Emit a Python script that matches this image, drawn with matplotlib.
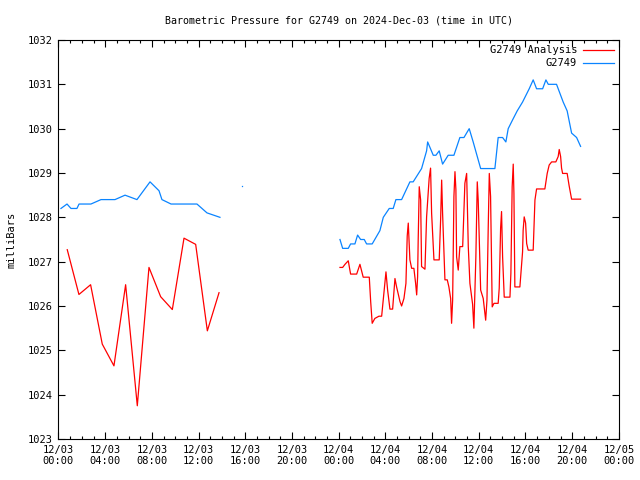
import numpy as np
import matplotlib
matplotlib.use("Agg")
import matplotlib.pyplot as plt
from matplotlib.ticker import MultipleLocator, FuncFormatter

nan = np.nan

# hours since 2024-12-03 00:00 UTC
obs_hours = [0.21, 0.73, 1.07, 1.58, 1.76, 2.78, 3.64, 4.84, 5.70, 6.72, 7.84, 8.61, 8.86,
             9.64, 11.86, 12.72, 13.83, nan, 15.74, nan,
             24.11, 24.34, 24.82, 25.02, 25.39, 25.62, 25.88, 26.19, 26.39, 26.87, 27.53,
             27.82, 28.33, 28.67, 28.90, 29.39, 30.10, 30.38, 31.10, 31.53, 31.62, 32.10,
             32.33, 32.61, 32.90, 33.38, 33.87, 34.38, 34.73, 35.18, 35.52, 36.16, 37.38,
             37.66, 38.04, 38.32, 38.52, 38.90, 39.29, 39.75, 40.32, 40.66, 40.95, 41.47,
             41.75, 41.95, 42.66, 43.23, 43.57, 43.95, 44.38, 44.72]
obs_mb = [1028.2, 1028.3, 1028.2, 1028.2, 1028.3, 1028.3, 1028.4, 1028.4, 1028.5, 1028.4,
          1028.8, 1028.6, 1028.4, 1028.3, 1028.3, 1028.1, 1028.0, nan, 1028.7, nan,
          1027.5, 1027.3, 1027.3, 1027.4, 1027.4, 1027.6, 1027.5, 1027.5, 1027.4, 1027.4,
          1027.7, 1028.0, 1028.2, 1028.2, 1028.4, 1028.4, 1028.8, 1028.8, 1029.1, 1029.5,
          1029.7, 1029.4, 1029.4, 1029.5, 1029.2, 1029.4, 1029.4, 1029.8, 1029.8, 1030.0,
          1029.7, 1029.1, 1029.1, 1029.8, 1029.8, 1029.7, 1030.0, 1030.2, 1030.4, 1030.6,
          1030.9, 1031.1, 1030.9, 1030.9, 1031.1, 1031.0, 1031.0, 1030.6, 1030.4, 1029.9,
          1029.8, 1029.6]

ana_hours = [0.75, 1.75, 2.75, 3.75, 4.75, 5.75, 6.75, 7.75, 8.75, 9.75, 10.75, 11.75,
             12.75, 13.75, nan,
             24.11, 24.34, 24.54, 24.82, 25.02, 25.54, 25.82, 26.10, 26.62, 26.74, 26.87,
             27.10, 27.45, 27.68, 27.88, 28.05, 28.19, 28.39, 28.62, 28.82, 28.96, 29.25,
             29.39, 29.59, 29.76, 29.87, 29.96, 30.10, 30.25, 30.44, 30.59, 30.68, 30.76,
             30.81, 30.90, 31.02, 31.10, 31.39, 31.53, 31.75, 31.87, 31.96, 32.16, 32.61,
             32.73, 32.82, 32.90, 33.10, 33.30, 33.44, 33.59, 33.67, 33.76, 33.87, 33.96,
             34.04, 34.10, 34.24, 34.38, 34.62, 34.81, 34.96, 35.10, 35.24, 35.47, 35.58,
             35.75, 35.87, 35.95, 36.16, 36.38, 36.59, 36.70, 36.81, 36.90, 37.01, 37.15,
             37.30, 37.66, 37.75, 37.87, 37.95, 38.04, 38.18, 38.67, 38.75, 38.86, 38.95,
             39.01, 39.09, 39.52, 39.75, 39.80, 39.89, 40.01, 40.10, 40.23, 40.66, 40.81,
             40.95, 41.66, 41.86, 42.03, 42.24, 42.60, 42.80, 42.89, 43.01, 43.09, 43.18,
             43.57, 43.74, 43.95, 44.72]
ana_mb = [1027.27, 1026.26, 1026.48, 1025.14, 1024.65, 1026.48, 1023.75, 1026.87, 1026.21,
          1025.92, 1027.53, 1027.39, 1025.44, 1026.30, nan,
          1026.87, 1026.87, 1026.94, 1027.02, 1026.72, 1026.72, 1026.94, 1026.65, 1026.65,
          1026.10, 1025.61, 1025.72, 1025.77, 1025.77, 1026.32, 1026.77, 1026.36, 1025.93,
          1025.93, 1026.62, 1026.43, 1026.10, 1026.00, 1026.17, 1026.51, 1027.58, 1027.87,
          1027.04, 1026.85, 1026.85, 1026.51, 1026.25, 1026.66, 1027.49, 1028.69, 1028.39,
          1026.89, 1026.83, 1028.01, 1028.88, 1029.11, 1028.09, 1027.04, 1027.04, 1027.94,
          1028.84, 1028.09, 1026.59, 1026.59, 1026.43, 1026.17, 1025.61, 1026.13, 1028.47,
          1029.03, 1028.62, 1027.11, 1026.81, 1027.34, 1027.34, 1028.77, 1028.99, 1027.34,
          1026.51, 1026.04, 1025.50, 1027.11, 1028.80, 1028.39, 1026.36, 1026.17, 1025.68,
          1026.13, 1027.79, 1028.99, 1028.47, 1025.98, 1026.06, 1026.06, 1026.40, 1027.76,
          1028.13, 1027.11, 1026.20, 1026.20, 1026.74, 1028.69, 1029.20, 1028.54, 1026.43,
          1026.43, 1027.22, 1027.71, 1028.01, 1027.87, 1027.41, 1027.26, 1027.26, 1028.39,
          1028.64, 1028.64, 1028.99, 1029.18, 1029.25, 1029.25, 1029.37, 1029.53, 1029.37,
          1029.11, 1028.99, 1028.99, 1028.71, 1028.41, 1028.41]

plt.rcParams['font.family'] = 'DejaVu Sans Mono'
plt.rcParams['font.size'] = 7.5

fig = plt.figure(figsize=(6.4, 4.8), dpi=100)
ax = fig.add_axes([0.0914, 0.0854, 0.8756, 0.8313])

ax.plot(ana_hours, ana_mb, color='#ff0000', lw=0.9, label='G2749 Analysis')
ax.plot(obs_hours, obs_mb, color='#0a84ff', lw=0.9, label='G2749')
ax.plot([15.74], [1028.7], ls='none', marker='s', ms=0.9, mew=0, color='#0a84ff')

ax.set_xlim(0, 48)
ax.set_ylim(1023, 1032)
ax.xaxis.set_major_locator(MultipleLocator(4))
ax.xaxis.set_minor_locator(MultipleLocator(1))
ax.yaxis.set_major_locator(MultipleLocator(1))

def fmt(h, pos):
    day = 3 + int(h // 24)
    return '12/%02d\n%02d:00' % (day, int(h % 24))

ax.xaxis.set_major_formatter(FuncFormatter(fmt))
ax.tick_params(which='both', direction='in', top=True, right=True, width=0.8)
ax.tick_params(which='major', length=5, pad=4)
ax.tick_params(which='minor', length=2.5)
for s in ax.spines.values():
    s.set_linewidth(0.8)

ax.set_ylabel('milliBars', labelpad=8)
ax.set_title('Barometric Pressure for G2749 on 2024-Dec-03 (time in UTC)', fontsize=7.2, pad=12)
ax.legend(loc='upper right', frameon=False, markerfirst=False, handlelength=2.9,
          borderaxespad=0.1, labelspacing=0.3, handletextpad=0.6)

fig.savefig('out.png', dpi=100)
